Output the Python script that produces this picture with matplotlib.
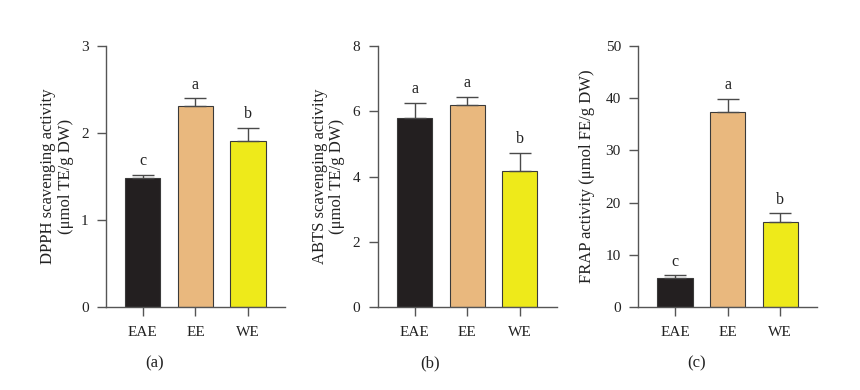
import numpy as np
import matplotlib.pyplot as plt

plt.rcParams['font.family'] = ['Liberation Serif', 'DejaVu Serif']
plt.rcParams['font.size'] = 10

groups = ["EAE", "EE", "WE"]
colors = ["#231f20", "#e9b87e", "#eeea1a"]

dpph = [1.48, 2.31, 1.91]
dpph_err = [0.04, 0.09, 0.15]
dpph_sig = ["c", "a", "b"]

abts = [5.80, 6.19, 4.16]
abts_err = [0.46, 0.25, 0.57]
abts_sig = ["a", "a", "b"]

frap = [5.6, 37.3, 16.3]
frap_err = [0.45, 2.6, 1.7]
frap_sig = ["c", "a", "b"]

panels = [
    (dpph, dpph_err, dpph_sig, 3, [0, 1, 2, 3],
     "DPPH scavenging activity\n(μmol TE/g DW)", "(a)", 0.1233, -0.274, 155),
    (abts, abts_err, abts_sig, 8, [0, 2, 4, 6, 8],
     "ABTS scavenging activity\n(μmol TE/g DW)", "(b)", 0.4392, -0.277, 430),
    (frap, frap_err, frap_sig, 50, [0, 10, 20, 30, 40, 50],
     "FRAP activity (μmol FE/g DW)", "(c)", 0.7422, -0.288, 697),
]

fig = plt.figure(figsize=(8.6, 3.9), dpi=100)
x = np.arange(len(groups))

for vals, errs, sig, ymax, yt, ylab, tag, left, lx, tx in panels:
    ax = fig.add_axes([left, 0.2128, 0.208, 0.669])
    ax.bar(x, vals, width=0.67, color=colors, edgecolor="#3a3a3a", linewidth=0.8,
           yerr=[[0] * 3, errs], capsize=8,
           error_kw=dict(ecolor="#4a4a4a", elinewidth=1.0, capthick=1.0))
    for i in range(3):
        ax.annotate(sig[i], (x[i], vals[i] + errs[i]), xytext=(0, 4),
                    textcoords="offset points", ha="center", va="bottom",
                    fontsize=11.5, color="#222")
    ax.set_xlim(-0.7, 2.7)
    ax.set_ylim(0, ymax)
    ax.set_yticks(yt)
    ax.set_xticks(x)
    ax.set_xticklabels(groups)
    for s in ["top", "right"]:
        ax.spines[s].set_visible(False)
    for s in ["left", "bottom"]:
        ax.spines[s].set_color("#555")
        ax.spines[s].set_linewidth(1.0)
    ax.tick_params(direction="out", length=6.5, width=1.0, color="#555",
                   labelcolor="#222", labelsize=11)
    ax.tick_params(axis="x", pad=7)
    ax.tick_params(axis="y", pad=6)
    ax.set_ylabel(ylab, fontsize=12, color="#222", va="center",
                  linespacing=1.1)
    ax.yaxis.set_label_coords(lx, 0.5)
    fig.text(tx / 860, 1 - 363 / 390, tag, ha="center", va="center",
             fontsize=12, color="#222")

fig.savefig("out.png", dpi=100)
